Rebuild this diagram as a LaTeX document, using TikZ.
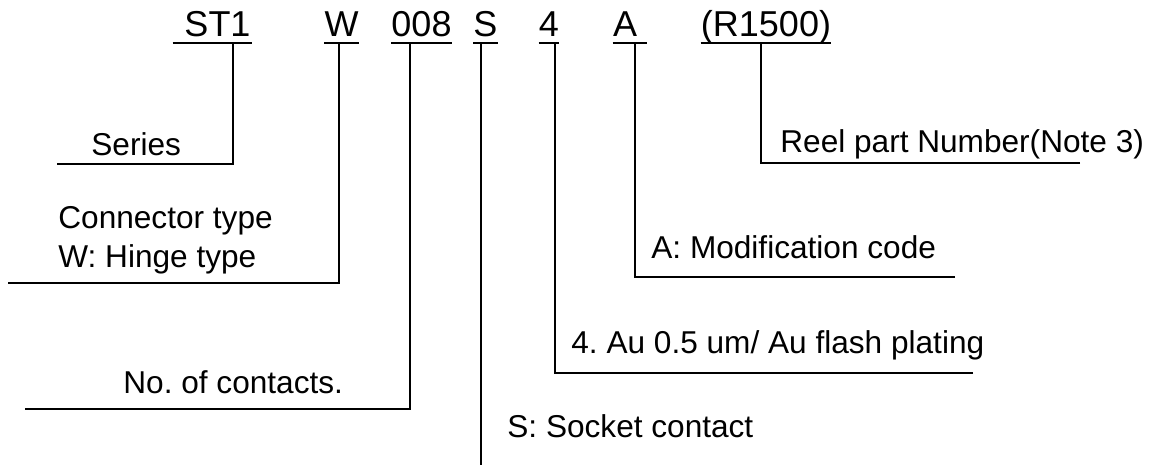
\documentclass[tikz,border=0pt]{standalone}
\usepackage{fontspec}
\setmainfont{Liberation Sans}
\frenchspacing
\usetikzlibrary{positioning}
\tikzset{
  code/.style={inner sep=0pt,anchor=base,text depth=3pt,font=\fontsize{18}{18}\selectfont},
  lbl/.style={inner sep=0pt,anchor=base west,align=left,font=\fontsize{15.8}{19.5}\selectfont},
  lead/.style={line width=0.9pt}
}

\begin{document}
\begin{tikzpicture}[x=0.5pt,y=-0.5pt]
\useasboundingbox (0,0) rectangle (1158,465);

% part number
\node[code,minimum width=39.5pt] (st) at (212.5,37) {\hspace{5pt}ST1};
\node[code] (w) at (341.5,37) {W};
\node[code] (num) at (421.5,37) {008};
\node[code] (s) at (485.5,37) {S};
\node[code] (four) at (549,37) {4};
\node[code,text width=17pt] (a) at (630,37) {A};
\node[code] (reel) at (766,37) {(R1500)};
\foreach \n in {st,w,num,s,four,a,reel}
  \draw[lead] (\n.south west) -- (\n.south east);

% descriptions
\node[lbl] (ser) at (91,156) {Series};
\node[lbl] (typ) at (58,267) {Connector type\\W: Hinge type};
\node[lbl] (cnt) at (123,393) {No. of contacts.};
\node[lbl] (sock) at (507,437) {S: Socket contact};
\node[lbl] (plat) at (571,353) {4. Au 0.5 um/ Au flash plating};
\node[lbl] (mod) at (651,258) {A: Modification code};
\node[lbl] (rl) at (780,153) {Reel part Number(Note 3)};

% stem tops and leader ends
\coordinate (st-t) at (233,43);
\coordinate (w-t) at (339,43);
\coordinate (num-t) at (410,43);
\coordinate (s-t) at (481,43);
\coordinate (four-t) at (555,43);
\coordinate (a-t) at (635,43);
\coordinate (reel-t) at (761,43);
\coordinate (ser-u) at (57,164);
\coordinate (typ-u) at (8,283);
\coordinate (cnt-u) at (25,409);
\coordinate (sock-u) at (481,465);
\coordinate (plat-u) at (973,373);
\coordinate (mod-u) at (955,277);
\coordinate (rl-u) at (1080,163);

% leaders
\draw[lead] (ser-u) -| (st-t);
\draw[lead] (typ-u) -| (w-t);
\draw[lead] (cnt-u) -| (num-t);
\draw[lead] (sock-u) -- (s-t);
\draw[lead] (plat-u) -| (four-t);
\draw[lead] (mod-u) -| (a-t);
\draw[lead] (rl-u) -| (reel-t);
\end{tikzpicture}
\end{document}
